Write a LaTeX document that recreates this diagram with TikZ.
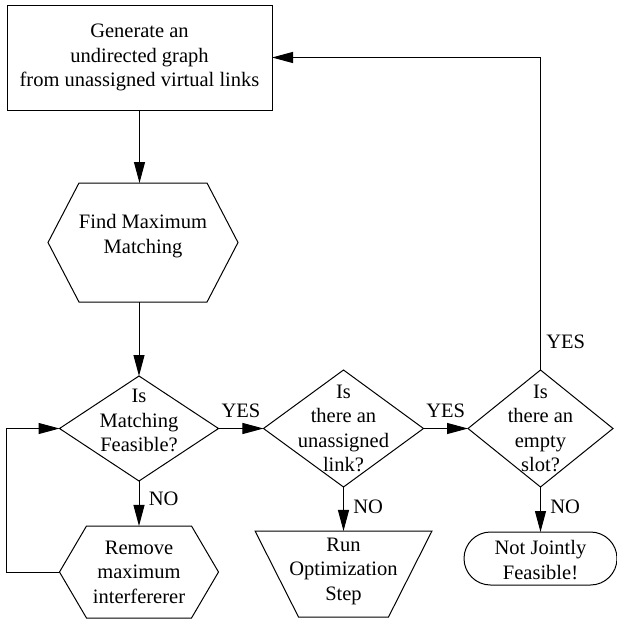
\documentclass[tikz,border=0pt]{standalone}
\usepackage{fontspec}
\setmainfont{Liberation Serif}
\usetikzlibrary{arrows.meta,shapes.geometric,shapes.symbols,shapes.misc}
\tikzset {>={Triangle[length=21pt,width=11pt]}}
\tikzset{
  shp/.style={draw,line width=1pt,inner sep=0pt,outer sep=0pt},
  txt/.style={align=center},
  ask/.style={shp,diamond},
  hexa/.style={shp,signal,signal to=west and east},
}

\begin{document}
\begin{tikzpicture}[x=1pt,y=-1pt,line width=1pt,
  every node/.append style={font=\fontsize{20.5}{24.5}\selectfont}]
\useasboundingbox (0,0) rectangle (617,621);
% boxes
\node[shp,rectangle,minimum width=265pt,minimum height=105pt,align=center] (gen) at (139.5,57.5)
  {Generate an\\undirected graph\\from unassigned virtual links};
\node[hexa,signal pointer angle=125,minimum width=190pt,minimum height=119pt,
  label={[txt,yshift=6.5pt]center:Find Maximum\\Matching}] (fmm) at (143,242.5) {};
\node[ask,minimum width=159pt,minimum height=105pt,
  label={[txt,yshift=8pt]center:Is\\Matching\\Feasible?}] (feas) at (139,428.5) {};
\node[ask,minimum width=160pt,minimum height=117pt,
  label={[txt]center:Is\\there an\\unassigned\\link?}] (unas) at (343.5,428.5) {};
\node[ask,minimum width=145pt,minimum height=117pt,
  label={[txt]center:Is\\there an\\empty\\slot?}] (slot) at (540.5,428.5) {};
\node[hexa,signal pointer angle=119.2,minimum width=159pt,minimum height=92pt,
  label={[txt]center:Remove\\maximum\\interfererer}] (rmv) at (139,572) {};
\node[shp,trapezium,shape border rotate=180,trapezium left angle=63.2,trapezium right angle=63.2,
  inner xsep=45pt,inner ysep=43pt,
  label={[txt,yshift=3pt]center:Run\\Optimization\\Step}] (opt) at (343.5,574) {};
\node[shp,rounded rectangle,minimum width=153pt,minimum height=53pt,
  label={[txt,yshift=-1.5pt]center:Not Jointly\\Feasible!}] (nojf) at (540.5,558.5) {};
% connectors
\draw[->] (gen) -- (gen |- fmm.north);
\draw[->] (fmm.south -| feas) -- (feas);
\draw[->] (feas) -- node[above=7pt] {YES} (unas);
\draw[->] (unas) -- node[above=7pt] {YES} (slot);
\draw[->] (feas) -- node[pos=.4,right=6pt] {NO} (rmv);
\draw[->] (unas) -- node[pos=.45,right=6pt] {NO} (opt);
\draw[->] (slot) -- node[pos=.45,right=6pt] {NO} (nojf);
\draw[->] (rmv.west) -- ++(-53,0) |- (feas.west);
\draw[->] (slot) |- node[pos=.045,right=2pt] {YES} (gen);
\end{tikzpicture}
\end{document}
